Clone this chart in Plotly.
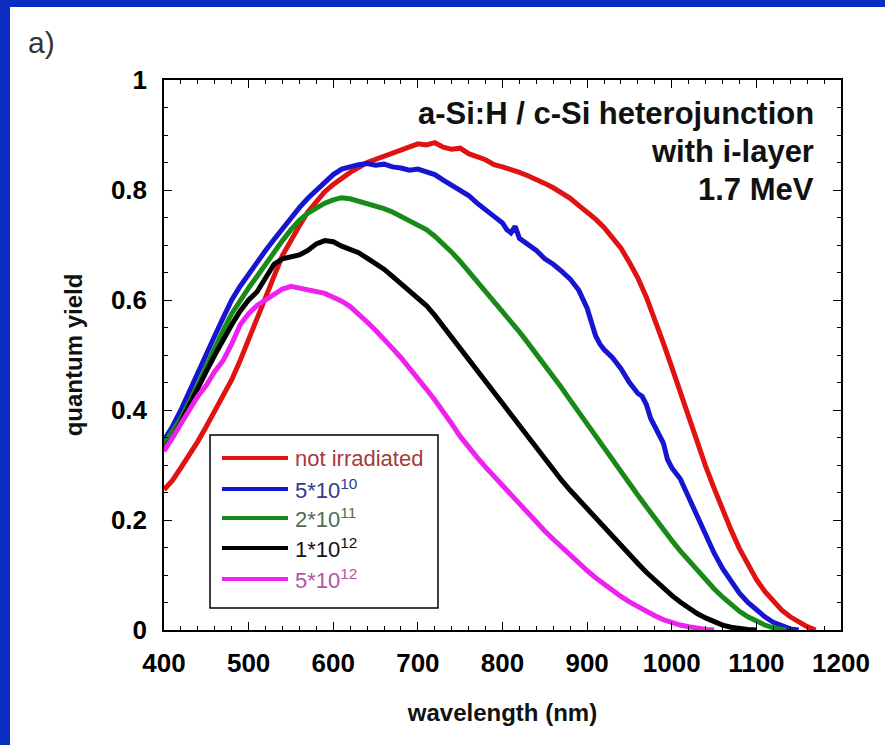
import plotly.graph_objects as go

# ---------------- data ----------------
wl_red = [400,410,420,430,440,450,460,470,480,490,500,510,520,530,540,550,560,570,580,590,600,620,640,660,680,690,700,710,720,730,740,750,760,780,790,800,810,820,830,840,850,860,870,880,890,900,910,920,930,940,950,960,970,980,990,1000,1010,1020,1030,1040,1050,1060,1070,1080,1090,1100,1110,1120,1130,1140,1150,1160,1170]
qy_red = [0.255,0.272,0.295,0.318,0.343,0.37,0.398,0.425,0.455,0.49,0.527,0.565,0.603,0.643,0.681,0.71,0.735,0.76,0.78,0.797,0.81,0.832,0.85,0.862,0.872,0.878,0.884,0.882,0.886,0.878,0.874,0.876,0.866,0.855,0.846,0.842,0.838,0.832,0.826,0.82,0.812,0.804,0.795,0.785,0.772,0.76,0.747,0.732,0.714,0.694,0.668,0.64,0.605,0.565,0.522,0.478,0.432,0.388,0.342,0.298,0.258,0.218,0.182,0.148,0.118,0.092,0.07,0.052,0.036,0.024,0.014,0.006,0.0]

wl_blue = [400,410,420,430,440,450,460,470,480,490,500,510,520,530,540,550,560,570,580,590,600,610,620,630,640,650,660,670,680,690,700,710,720,730,740,750,760,770,780,790,800,805,810,815,820,830,840,850,860,870,880,890,900,905,910,915,920,930,940,950,960,965,970,975,980,990,995,1000,1010,1020,1030,1040,1050,1060,1070,1080,1090,1100,1110,1120,1130,1140,1150]
qy_blue = [0.345,0.37,0.40,0.435,0.468,0.50,0.535,0.568,0.60,0.625,0.648,0.67,0.69,0.71,0.73,0.75,0.768,0.785,0.80,0.815,0.828,0.838,0.843,0.846,0.848,0.845,0.847,0.842,0.84,0.836,0.838,0.832,0.828,0.818,0.808,0.798,0.79,0.776,0.765,0.752,0.74,0.728,0.722,0.734,0.712,0.70,0.69,0.675,0.665,0.652,0.638,0.618,0.585,0.56,0.535,0.52,0.51,0.495,0.475,0.45,0.43,0.425,0.41,0.385,0.37,0.34,0.31,0.295,0.275,0.24,0.205,0.17,0.14,0.112,0.088,0.067,0.05,0.036,0.024,0.014,0.007,0.002,0.0]

wl_green = [400,410,420,430,440,450,460,470,480,490,500,510,520,530,540,550,560,570,580,590,600,610,620,630,640,650,660,670,680,690,700,710,720,730,740,750,760,770,780,790,800,810,820,830,840,850,860,870,880,890,900,910,920,930,940,950,960,970,980,990,1000,1010,1020,1030,1040,1050,1060,1070,1080,1090,1100,1110,1120,1130,1135]
qy_green = [0.338,0.36,0.385,0.415,0.445,0.48,0.515,0.545,0.575,0.60,0.622,0.643,0.665,0.688,0.708,0.728,0.745,0.758,0.768,0.776,0.782,0.786,0.784,0.78,0.776,0.772,0.766,0.76,0.752,0.745,0.738,0.728,0.716,0.702,0.687,0.67,0.652,0.635,0.617,0.598,0.58,0.56,0.542,0.522,0.502,0.482,0.462,0.44,0.418,0.396,0.374,0.352,0.33,0.308,0.287,0.266,0.245,0.224,0.203,0.183,0.163,0.144,0.126,0.108,0.091,0.075,0.06,0.046,0.034,0.024,0.016,0.009,0.004,0.001,0.0]

wl_black = [400,410,420,430,440,450,460,470,480,490,500,510,520,530,540,550,560,570,580,590,600,610,620,630,640,650,660,670,680,690,700,710,720,730,740,750,760,770,780,790,800,810,820,830,840,850,860,870,880,890,900,910,920,930,940,950,960,970,980,990,1000,1010,1020,1030,1040,1050,1060,1070,1080,1090,1100]
qy_black = [0.328,0.35,0.378,0.41,0.44,0.47,0.50,0.53,0.555,0.58,0.60,0.615,0.64,0.665,0.675,0.678,0.682,0.69,0.702,0.708,0.706,0.698,0.692,0.686,0.676,0.666,0.656,0.643,0.63,0.618,0.605,0.59,0.572,0.552,0.53,0.51,0.49,0.47,0.45,0.43,0.41,0.39,0.37,0.35,0.33,0.31,0.29,0.272,0.254,0.237,0.22,0.203,0.186,0.17,0.153,0.137,0.121,0.105,0.09,0.076,0.063,0.051,0.04,0.03,0.022,0.015,0.009,0.005,0.002,0.001,0.0]

wl_magenta = [400,410,420,430,440,450,460,470,480,490,500,510,520,530,540,550,560,570,580,590,600,610,620,630,640,650,660,670,680,690,700,710,720,730,740,750,760,770,780,790,800,810,820,830,840,850,860,870,880,890,900,910,920,930,940,950,960,970,980,990,1000,1010,1020,1030,1040,1050]
qy_magenta = [0.325,0.35,0.375,0.40,0.425,0.445,0.47,0.49,0.52,0.555,0.575,0.59,0.60,0.612,0.62,0.625,0.622,0.62,0.617,0.612,0.605,0.598,0.588,0.575,0.56,0.545,0.53,0.512,0.495,0.477,0.458,0.438,0.418,0.398,0.375,0.352,0.332,0.314,0.296,0.279,0.262,0.245,0.228,0.212,0.196,0.18,0.165,0.15,0.135,0.121,0.108,0.095,0.083,0.072,0.061,0.051,0.042,0.034,0.026,0.019,0.013,0.009,0.006,0.003,0.001,0.0]

series_labels = ["not irradiated", "5*10<sup>10</sup>", "2*10<sup>11</sup>", "1*10<sup>12</sup>", "5*10<sup>12</sup>"]
series_x = [wl_red, wl_blue, wl_green, wl_black, wl_magenta]
series_y = [qy_red, qy_blue, qy_green, qy_black, qy_magenta]
line_colors = ["#E01212", "#1616D0", "#188A18", "#000000", "#EE22EE"]
label_colors = ["#A83A3A", "#2E3C8C", "#4E6E4E", "#111111", "#B452A8"]

x_ticks = [400, 500, 600, 700, 800, 900, 1000, 1100, 1200]
y_ticks = [0, 0.2, 0.4, 0.6, 0.8, 1]

annotation_lines = ["a-Si:H / c-Si heterojunction", "with i-layer", "1.7 MeV"]

# ---------------- layout geometry ----------------
W, H = 885, 745
L, R, T, B = 164, 44, 80, 115
PW, PH = W - L - R, H - T - B
FONT = "Liberation Sans, Arial, Helvetica, sans-serif"
NARROW = "Liberation Sans Narrow, Arial Narrow, Liberation Sans, sans-serif"


def px(x):
    return (x - L) / PW


def py(y):
    return (H - B - y) / PH


fig = go.Figure()
for xs, ys, c, name in zip(series_x, series_y, line_colors, series_labels):
    fig.add_trace(go.Scatter(x=xs, y=ys, mode="lines", name=name,
                             line=dict(color=c, width=5), showlegend=False))

shapes = []
annotations = []

# blue frame (left and top)
BLUE = "#0A2CC0"
shapes.append(dict(type="rect", xref="paper", yref="paper", x0=px(0), x1=px(10), y0=py(H), y1=py(0),
                   fillcolor=BLUE, line=dict(width=0), layer="below"))
shapes.append(dict(type="rect", xref="paper", yref="paper", x0=px(0), x1=px(W), y0=py(7), y1=py(0),
                   fillcolor=BLUE, line=dict(width=0), layer="below"))

# legend box
lx0, lx1, ly0, ly1 = 210, 438, 435, 608
shapes.append(dict(type="rect", xref="paper", yref="paper", x0=px(lx0), x1=px(lx1), y0=py(ly1), y1=py(ly0),
                   fillcolor="white", line=dict(color="black", width=1.5), layer="above"))
row_y = [458, 489, 518, 548, 579]
for yy, c, lc, name in zip(row_y, line_colors, label_colors, series_labels):
    shapes.append(dict(type="line", xref="paper", yref="paper", x0=px(222), x1=px(288), y0=py(yy), y1=py(yy),
                       line=dict(color=c, width=4), layer="above"))
    annotations.append(dict(xref="paper", yref="paper", x=px(293), y=py(yy), xanchor="left", yanchor="middle",
                            text=name, showarrow=False, font=dict(family=FONT, size=22, color=lc)))

# in-plot title text
for yy, txt in zip([113, 152, 190], annotation_lines):
    annotations.append(dict(xref="paper", yref="paper", x=px(816), y=py(yy), xanchor="right", yanchor="middle",
                            text=txt, showarrow=False,
                            font=dict(family=FONT, size=31, color="#111111", weight="bold")))

# panel label
annotations.append(dict(xref="paper", yref="paper", x=px(26), y=py(42), xanchor="left", yanchor="middle",
                        text="a)", showarrow=False, font=dict(family=FONT, size=30, color="#333333")))

axis_common = dict(showline=True, linecolor="black", linewidth=1.5, mirror="ticks",
                   ticks="inside", ticklen=8, tickwidth=1.2, tickcolor="black",
                   showgrid=False, zeroline=False,
                   tickfont=dict(family=NARROW, size=26, color="black", weight="bold"))

fig.update_layout(
    width=W, height=H, autosize=False,
    margin=dict(l=L, r=R, t=T, b=B, pad=0),
    paper_bgcolor="white", plot_bgcolor="white",
    shapes=shapes, annotations=annotations,
    xaxis=dict(range=[400, 1200], tickvals=x_ticks, ticklabelstandoff=9,
               minor=dict(dtick=20, tick0=400, ticks="inside", ticklen=4, tickcolor="black", tickwidth=1),
               title=dict(text="wavelength (nm)", standoff=27,
                          font=dict(family=FONT, size=24, color="#111111", weight="bold")),
               **axis_common),
    yaxis=dict(range=[0, 1], tickvals=y_ticks, ticklabelstandoff=10,
               minor=dict(dtick=0.05, tick0=0, ticks="inside", ticklen=4, tickcolor="black", tickwidth=1),
               title=dict(text="quantum yield", standoff=21,
                          font=dict(family=FONT, size=24, color="#111111", weight="bold")),
               **axis_common),
    showlegend=False,
)

fig.write_html("out.html")
